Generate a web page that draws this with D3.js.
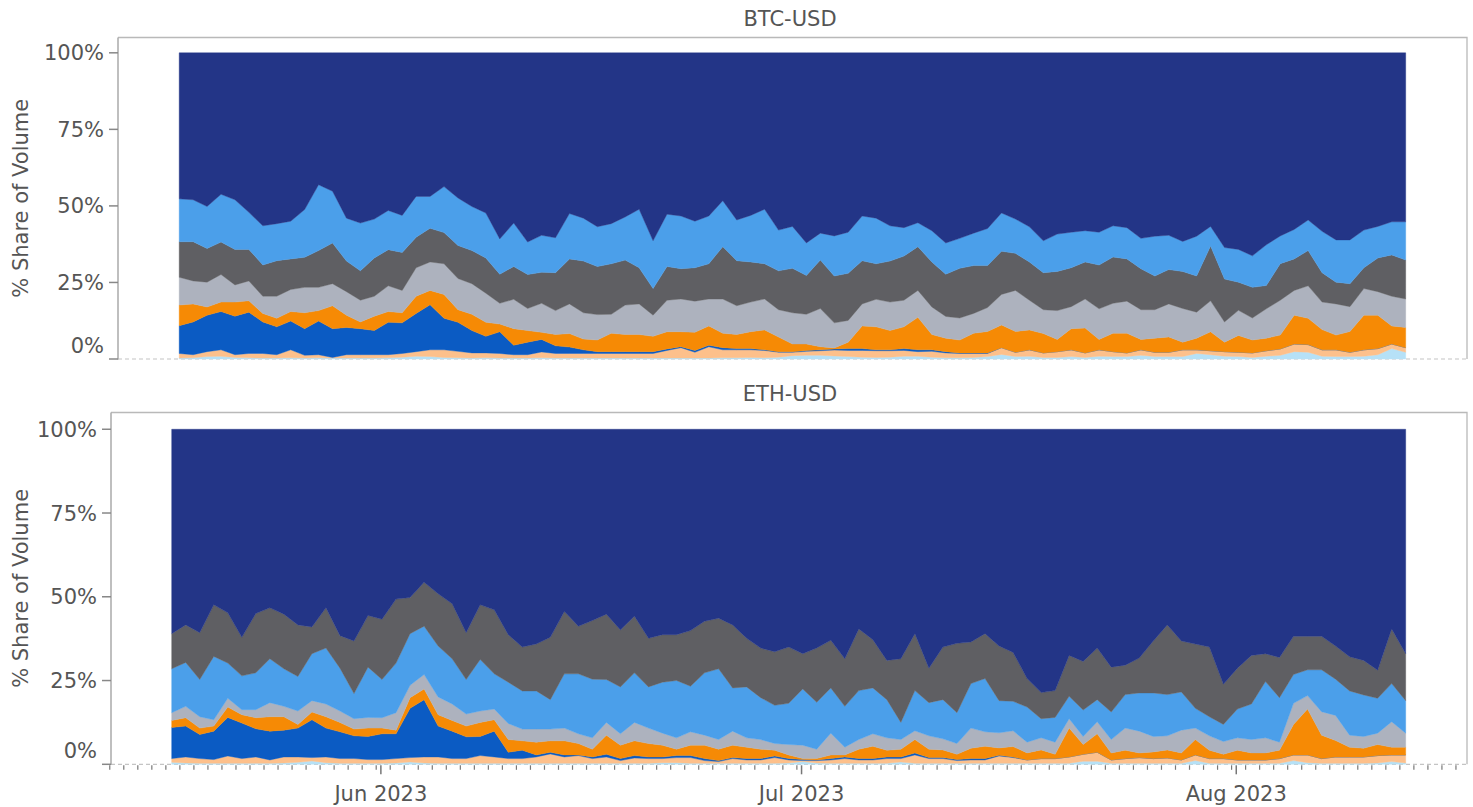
<!DOCTYPE html>
<html><head><meta charset="utf-8">
<script src="https://cdn.jsdelivr.net/npm/d3@7"></script>
<style>
body{margin:0;background:#fff}
svg{display:block}
text{font-family:"DejaVu Sans",sans-serif;fill:#555}
</style></head>
<body><svg id="chart" width="1473" height="807"></svg>
<script>
// ---------- DATA ----------
const firstDay = "2023-05-17";
const lastDay = "2023-08-13";
const panelTitles = ["BTC-USD", "ETH-USD"];
const yTickValues = [0, 0.25, 0.5, 0.75, 1];
const yTickLabels = ["0%", "25%", "50%", "75%", "100%"];
const yAxisTitle = "% Share of Volume";
const exchanges = ["A", "B", "C", "D", "E", "F", "G", "H"];
const exchangeColors = ["#233587", "#4b9fea", "#5f5f63", "#adb2be", "#f68a05", "#0b5bc3", "#fdc08b", "#b6e1f7"];
// stacking order (bottom -> top)
const btcOrder = ["H", "G", "F", "E", "D", "C", "B", "A"];
const ethOrder = ["H", "G", "F", "E", "D", "B", "C", "A"];

// BTC-USD daily share of volume (%)
const btcA = [47.7,48.0,50.2,46.2,48.0,52.1,56.5,55.8,55.0,51.2,43.1,45.2,54.0,55.6,54.3,51.5,53.1,46.9,46.9,43.7,47.4,50.2,52.3,60.8,55.6,61.8,59.6,60.4,52.5,54.0,56.8,55.8,53.6,51.1,61.4,52.7,53.3,55.0,53.3,48.3,54.6,53.1,51.1,57.9,56.7,62.1,58.9,59.8,58.6,53.3,54.0,56.5,57.1,55.5,58.1,62.1,60.6,58.9,57.4,52.3,54.3,56.8,61.4,59.2,58.6,58.1,58.6,56.5,57.1,60.6,59.9,59.6,61.6,59.9,56.7,63.6,64.2,66.3,62.7,59.8,57.7,54.6,58.3,61.1,61.1,57.9,56.7,55.2,55.2];
const btcB = [14.0,13.7,13.7,15.6,16.2,12.1,12.8,12.1,12.3,15.6,21.5,16.9,14.0,15.6,12.7,12.8,12.1,13.3,10.4,15.0,15.5,14.4,14.7,11.5,14.2,10.6,12.1,11.4,14.8,14.0,13.0,13.1,14.1,19.1,15.6,17.1,17.2,15.2,15.6,15.0,13.3,15.2,17.8,13.3,13.7,10.6,8.8,13.1,13.4,14.6,14.9,11.5,9.3,7.8,10.2,10.2,9.8,10.6,12.1,12.5,11.2,11.5,10.4,12.2,11.6,10.2,10.7,10.2,10.2,9.9,13.0,11.2,9.8,13.0,6.4,10.3,10.7,10.3,13.3,9.1,9.6,10.0,13.5,13.8,14.3,12.3,10.3,10.8,12.5];
const btcC = [11.6,12.8,11.0,10.6,11.6,10.3,10.2,11.6,10.0,9.8,12.0,13.3,10.0,9.6,12.5,11.8,12.4,10.0,11.0,10.2,10.8,10.8,11.5,9.5,10.7,11.1,10.1,12.4,14.7,16.9,15.7,16.5,14.7,11.8,8.7,11.0,9.9,10.9,11.5,17.1,14.7,13.1,11.5,12.7,14.5,12.7,15.8,15.3,15.4,14.1,11.6,13.4,14.4,14.3,14.7,13.8,16.2,15.6,13.7,14.1,12.1,12.5,12.1,12.8,12.7,12.1,14.3,15.1,13.8,13.4,11.0,11.2,12.1,11.8,17.9,14.0,9.2,10.0,7.6,11.9,10.3,11.5,9.6,7.1,7.5,6.8,11.0,13.5,12.7];
const btcD = [9.1,7.5,8.1,9.0,5.6,6.5,5.6,7.2,7.2,8.3,7.6,7.2,7.7,7.1,6.5,8.4,7.3,9.3,9.3,10.0,10.2,10.0,9.5,6.8,9.6,7.2,9.5,7.8,9.7,8.6,8.3,6.2,9.6,10.0,6.9,10.3,10.7,10.2,8.8,11.2,9.4,9.7,10.1,8.9,10.2,9.7,12.5,8.2,7.1,7.2,9.0,9.3,8.7,8.8,9.0,7.1,7.2,6.5,7.8,10.0,13.4,9.7,7.8,9.4,7.2,9.5,10.0,9.8,10.5,9.7,9.3,10.8,11.0,8.5,10.1,6.6,8.2,7.2,9.6,11.4,8.1,10.6,9.0,10.2,8.1,8.7,7.7,9.7,9.3];
const btcE = [6.7,5.9,2.7,3.1,4.6,3.7,2.8,2.8,3.1,5.2,3.4,7.5,4.0,2.2,4.7,3.5,3.3,5.6,4.7,7.8,4.1,5.3,4.6,2.5,5.4,3.8,2.3,3.7,4.4,3.5,3.8,6.0,5.6,5.6,5.0,5.6,4.9,5.9,6.3,4.7,4.6,5.5,6.5,4.8,2.5,2.1,1.0,0.3,2.1,7.4,7.5,6.3,7.1,10.6,5.0,4.4,4.2,6.4,7.0,7.4,6.8,6.5,6.3,4.0,6.9,8.1,3.4,6.0,6.4,3.4,4.6,5.0,2.5,3.8,6.2,3.1,5.5,4.2,4.1,4.5,9.4,8.6,6.6,4.8,6.8,11.3,10.9,5.9,6.6];
const btcF = [9.1,10.7,11.9,12.5,12.6,13.5,10.3,9.1,9.4,8.7,11.0,9.4,8.9,8.5,7.9,10.6,10.0,12.5,14.7,10.3,9.5,7.3,5.4,7.1,3.1,4.1,4.1,2.5,2.1,1.2,0.6,0.6,0.6,0.6,0.6,0.5,0.3,0.6,0.5,0.7,0.4,0.4,0.2,0.2,0.2,0.3,0.3,0.4,0.6,0.6,0.3,0.3,0.6,0.6,0.5,0.4,0.2,0.2,0.2,0,0,0,0,0,0,0,0,0,0,0,0,0,0,0,0,0,0,0,0,0,0,0,0,0,0,0,0,0,0];
const btcG = [1.5,1.0,1.6,2.1,0.9,1.4,1.5,1.1,2.6,0.9,1.0,0.2,1.1,1.1,1.1,1.0,1.2,1.5,2.2,2.5,2.1,1.7,1.6,1.5,1.1,1.1,1.9,1.5,1.5,1.5,1.5,1.5,1.5,1.5,1.5,2.5,3.4,1.9,3.7,2.6,2.6,2.5,2.4,1.6,1.1,1.3,1.5,1.9,2.0,2.2,2.2,2.1,1.9,1.5,1.9,1.6,1.4,1.3,1.0,2.2,1.4,2.1,1.5,1.9,2.2,1.5,2.1,1.6,1.2,1.8,1.4,1.4,2.2,1.2,1.3,1.5,1.4,1.5,1.8,2.1,2.5,2.5,2.1,2.2,1.4,2.1,2.0,1.5,1.5];
const btcH = [0.3,0.4,0.8,0.9,0.5,0.4,0.3,0.3,0.4,0.3,0.4,0.3,0.3,0.3,0.3,0.4,0.6,0.9,0.8,0.5,0.4,0.3,0.4,0.3,0.3,0.3,0.4,0.3,0.3,0.3,0.3,0.3,0.3,0.3,0.3,0.3,0.3,0.3,0.3,0.4,0.4,0.5,0.4,0.6,1.1,1.2,1.2,1.0,0.8,0.6,0.5,0.6,0.9,0.9,0.6,0.4,0.4,0.5,0.8,1.5,0.8,0.9,0.5,0.5,0.8,0.5,0.9,0.8,0.8,1.2,0.8,0.8,0.8,1.8,1.4,0.9,0.8,0.5,0.9,1.2,2.4,2.2,0.9,0.8,0.8,0.9,1.4,3.4,2.2];

// ETH-USD daily share of volume (%)
const ethA = [61.0,58.4,60.7,52.4,54.8,62.1,55.0,53.3,55.2,58.4,59.0,53.3,61.6,63.2,55.6,56.7,50.7,50.2,45.7,49.1,52.1,60.7,52.4,53.9,61.3,65.0,64.1,62.1,54.4,58.8,57.1,55.2,59.9,55.8,62.4,61.3,61.3,60.1,57.3,56.4,58.4,62.4,65.3,66.4,65.0,67.0,65.3,63.0,68.5,59.6,62.8,69.0,68.5,61.0,71.3,65.0,63.9,63.5,61.0,64.7,66.6,74.4,78.6,78.0,67.5,69.3,65.3,71.0,70.4,68.3,63.2,58.4,63.2,64.1,65.0,76.1,71.3,67.5,67.0,68.1,61.8,61.8,61.8,64.7,67.9,69.0,71.9,59.6,67.0];
const ethB = [13.1,13.1,11.1,18.9,10.5,10.1,11.0,13.1,11.2,10.3,14.0,16.7,12.8,7.5,15.0,11.4,14.8,15.4,14.4,15.2,13.5,10.3,15.4,10.5,12.3,11.4,11.4,8.8,16.2,17.9,17.5,12.8,14.0,14.8,12.3,15.2,17.1,13.6,18.6,21.1,12.9,15.2,12.5,11.4,12.3,16.8,14.0,13.5,12.2,14.6,13.7,11.4,5.1,12.0,9.9,11.7,9.2,13.3,15.9,9.6,8.8,10.5,5.7,7.4,6.7,7.9,6.6,8.2,10.0,11.4,13.0,12.3,11.4,5.9,5.7,5.1,8.6,10.6,16.8,13.3,8.6,7.7,12.5,10.8,13.2,12.4,10.4,11.4,9.7];
const ethC = [10.5,11.2,14.0,15.4,15.0,11.5,17.7,15.2,16.3,15.4,8.0,12.0,9.7,15.7,15.4,18.0,19.1,10.8,13.1,15.6,16.4,14.0,16.3,19.1,14.2,13.1,14.0,18.6,18.6,14.2,17.5,19.5,17.0,16.9,14.5,14.2,13.7,16.6,15.4,15.1,18.8,14.5,14.8,16.0,16.8,10.5,16.2,14.2,14.2,18.4,14.4,11.7,19.0,17.0,10.3,15.7,20.7,12.4,13.4,16.3,14.6,8.5,7.8,8.0,12.2,14.5,15.4,13.4,8.8,10.4,15.5,20.8,15.2,19.2,20.8,12.0,12.2,14.5,8.3,12.0,11.4,10.0,10.0,9.9,10.2,10.3,8.4,16.3,14.0];
const ethD = [2.3,3.4,3.4,1.9,2.6,1.5,2.4,4.2,3.1,4.0,3.4,3.8,3.4,3.1,3.2,3.1,5.2,3.7,4.3,5.3,4.9,3.6,3.4,3.2,4.8,3.5,3.9,3.5,3.8,2.9,3.4,3.8,3.4,5.5,4.6,3.6,3.4,4.0,3.0,2.9,4.2,2.8,2.9,2.0,3.1,4.0,2.8,6.5,2.3,2.9,3.7,3.7,2.9,2.6,4.0,3.3,3.2,6.0,4.3,4.5,4.7,3.2,3.6,3.6,2.8,2.4,3.6,4.0,6.6,6.5,4.6,4.2,6.8,3.4,4.3,3.8,3.7,4.0,4.5,2.4,6.3,4.0,7.0,7.5,3.6,3.5,3.4,7.6,4.2];
const ethE = [2.1,2.5,1.9,1.5,3.1,2.5,3.3,4.3,4.0,1.1,2.3,3.4,2.8,2.0,2.5,1.7,1.1,3.2,3.2,3.4,3.2,3.2,4.2,3.4,3.8,2.8,3.8,3.4,4.2,3.4,2.3,5.7,4.0,4.4,4.0,3.5,1.9,3.1,4.0,3.4,3.7,3.4,2.8,1.7,1.1,0.3,0.4,1.1,0.6,2.8,3.7,2.0,2.3,4.0,2.5,2.3,1.6,3.1,3.7,2.2,3.1,2.1,2.6,1.3,8.6,2.9,5.5,2.1,2.5,1.4,2.0,2.4,2.1,4.6,2.5,1.3,2.9,2.1,2.1,2.5,9.1,13.7,7.0,4.9,2.9,2.6,3.3,2.3,2.3];
const ethF = [9.3,9.2,7.2,8.5,11.5,10.6,8.4,8.6,8.0,8.6,11.3,8.6,8.0,6.8,6.9,7.7,7.4,14.7,17.1,9.2,8.2,6.5,5.7,7.7,1.9,2.5,0.6,0.5,0.6,0.2,0.5,0.8,0.6,0.7,0.5,0.5,0.6,0.6,0.6,0.3,0.3,0.4,0.4,0.5,0.4,0.3,0.2,0.4,0.5,0.4,0.4,0.5,0.5,0.6,0.3,0.3,0.3,0.4,0.4,0.2,0.2,0,0,0,0,0,0,0,0,0,0,0,0,0,0,0,0,0,0,0,0,0,0,0,0,0,0,0,0];
const ethG = [1.1,1.8,1.4,1.1,2.2,1.4,1.9,1.0,1.8,1.6,1.0,1.7,1.4,1.4,1.1,1.1,1.3,1.3,1.8,1.9,1.4,1.4,2.3,1.9,1.4,1.4,1.9,2.8,1.9,2.3,1.4,1.9,0.8,1.6,1.4,1.2,1.5,1.7,0.8,0.5,1.4,1.0,1.0,1.7,0.9,0.3,0.7,1.0,1.4,1.0,1.0,1.4,1.0,2.5,1.4,1.4,0.8,1.0,1.0,2.2,1.7,1.0,1.4,1.4,1.9,2.1,2.7,1.0,1.4,1.7,1.4,1.6,1.0,1.7,1.4,1.4,1.0,1.0,1.0,1.4,1.7,2.3,1.4,1.9,1.9,1.9,2.2,2.0,2.4];
const ethH = [0.6,0.4,0.3,0.3,0.3,0.3,0.3,0.3,0.4,0.6,1.0,0.5,0.3,0.3,0.3,0.3,0.4,0.7,0.4,0.3,0.3,0.3,0.3,0.3,0.3,0.3,0.3,0.3,0.3,0.3,0.3,0.3,0.3,0.3,0.3,0.5,0.5,0.3,0.3,0.3,0.3,0.3,0.3,0.3,0.4,0.8,0.4,0.3,0.3,0.3,0.3,0.3,0.7,0.3,0.3,0.3,0.3,0.3,0.3,0.3,0.3,0.3,0.3,0.3,0.3,0.9,0.9,0.3,0.3,0.3,0.3,0.3,0.3,1.1,0.3,0.3,0.3,0.3,0.3,0.3,1.1,0.5,0.3,0.3,0.3,0.3,0.4,0.8,0.4];

// ---------- BUILD ----------
const parse = d3.utcParse("%Y-%m-%d");
const days = d3.utcDay.range(parse(firstDay), d3.utcDay.offset(parse(lastDay), 1));
const colorOf = d3.scaleOrdinal().domain(exchanges).range(exchangeColors);

function rows(series) {
  return days.map((d, i) => {
    const r = {date: d};
    exchanges.forEach(k => r[k] = series[k][i]);
    return r;
  });
}
const btcRows = rows({A: btcA, B: btcB, C: btcC, D: btcD, E: btcE, F: btcF, G: btcG, H: btcH});
const ethRows = rows({A: ethA, B: ethB, C: ethC, D: ethD, E: ethE, F: ethF, G: ethG, H: ethH});

const svg = d3.select("#chart");
const dataHour = 10, monthTickHour = 8;
const hrs = (d, h) => d3.utcHour.offset(d, h);

const panels = [
  {title: panelTitles[0], rows: btcRows, order: btcOrder, left: 118, right: 1467, top: 37.5, bottom: 359,
   x0: 179.2, x1: 1405.7, titleY: 25.5, xAxis: false},
  {title: panelTitles[1], rows: ethRows, order: ethOrder, left: 111, right: 1467, top: 412.5, bottom: 764.3,
   x0: 171.7, x1: 1405.7, titleY: 400.5, xAxis: true}
];

panels.forEach(p => {
  const g = svg.append("g");
  const x = d3.scaleUtc()
    .domain([hrs(days[0], dataHour), hrs(days[days.length - 1], dataHour)])
    .range([p.x0, p.x1]);
  const y = d3.scaleLinear().domain([0, 1.05]).range([p.bottom, p.top]);

  // frame: top + right solid
  g.append("path")
    .attr("d", `M${p.left},${p.top}H${p.right}V${p.bottom}`)
    .attr("fill", "none").attr("stroke", "#b9b9b9").attr("stroke-width", 1.3);
  // baseline dashed
  g.append("line")
    .attr("x1", p.left).attr("x2", p.right).attr("y1", y(0)).attr("y2", y(0))
    .attr("stroke", "#c4c4c4").attr("stroke-width", 1.2).attr("stroke-dasharray", "4,3");

  const stack = d3.stack().keys(p.order).offset(d3.stackOffsetExpand);
  const layers = stack(p.rows);
  const area = d3.area()
    .x(d => x(hrs(d.data.date, dataHour)))
    .y0(d => y(d[0])).y1(d => y(d[1]));
  g.selectAll("path.layer").data(layers).join("path")
    .attr("class", "layer")
    .attr("d", area)
    .attr("fill", d => colorOf(d.key))
    .attr("stroke", d => colorOf(d.key))
    .attr("stroke-width", 0.4);

  // left axis line
  g.append("line")
    .attr("x1", p.left).attr("x2", p.left).attr("y1", p.top).attr("y2", p.bottom + 0.5)
    .attr("stroke", "#aaaaaa").attr("stroke-width", 1.5);

  // y ticks
  const yt = g.append("g");
  yTickValues.forEach((v, i) => {
    yt.append("line").attr("x1", p.left - 9).attr("x2", p.left).attr("y1", y(v)).attr("y2", y(v))
      .attr("stroke", "#888").attr("stroke-width", 1.5);
    yt.append("text").attr("x", p.left - 14).attr("y", y(v))
      .attr("dy", v === 0 ? "-0.3em" : "0.36em")
      .attr("text-anchor", "end").style("font-size", "21px").text(yTickLabels[i]);
  });

  // y axis title
  g.append("text")
    .attr("transform", `translate(28,${(p.top + p.bottom) / 2}) rotate(-90)`)
    .attr("text-anchor", "middle").style("font-size", "21px").text(yAxisTitle);

  // panel title
  g.append("text").attr("x", 790).attr("y", p.titleY).attr("text-anchor", "middle")
    .style("font-size", "21px").text(p.title);

  if (p.xAxis) {
    const minor = d3.utcDay.range(x.invert(p.left - 2), x.invert(p.right));
    g.selectAll("line.minor").data(minor).join("line").attr("class", "minor")
      .attr("x1", d => x(d)).attr("x2", d => x(d))
      .attr("y1", p.bottom + 1).attr("y2", p.bottom + 5.5)
      .attr("stroke", "#777").attr("stroke-width", 1.2);
    const months = d3.utcMonth.range(x.invert(p.left), x.invert(p.right)).map(d => hrs(d, monthTickHour));
    const fmt = d3.utcFormat("%b %Y");
    g.selectAll("line.major").data(months).join("line").attr("class", "major")
      .attr("x1", d => x(d)).attr("x2", d => x(d))
      .attr("y1", p.bottom + 1).attr("y2", p.bottom + 10)
      .attr("stroke", "#777").attr("stroke-width", 1.5);
    g.selectAll("text.mlab").data(months).join("text").attr("class", "mlab")
      .attr("x", d => x(d)).attr("y", 801).attr("text-anchor", "middle")
      .style("font-size", "21px").text(d => fmt(d));
  }
});
</script>
</body></html>
